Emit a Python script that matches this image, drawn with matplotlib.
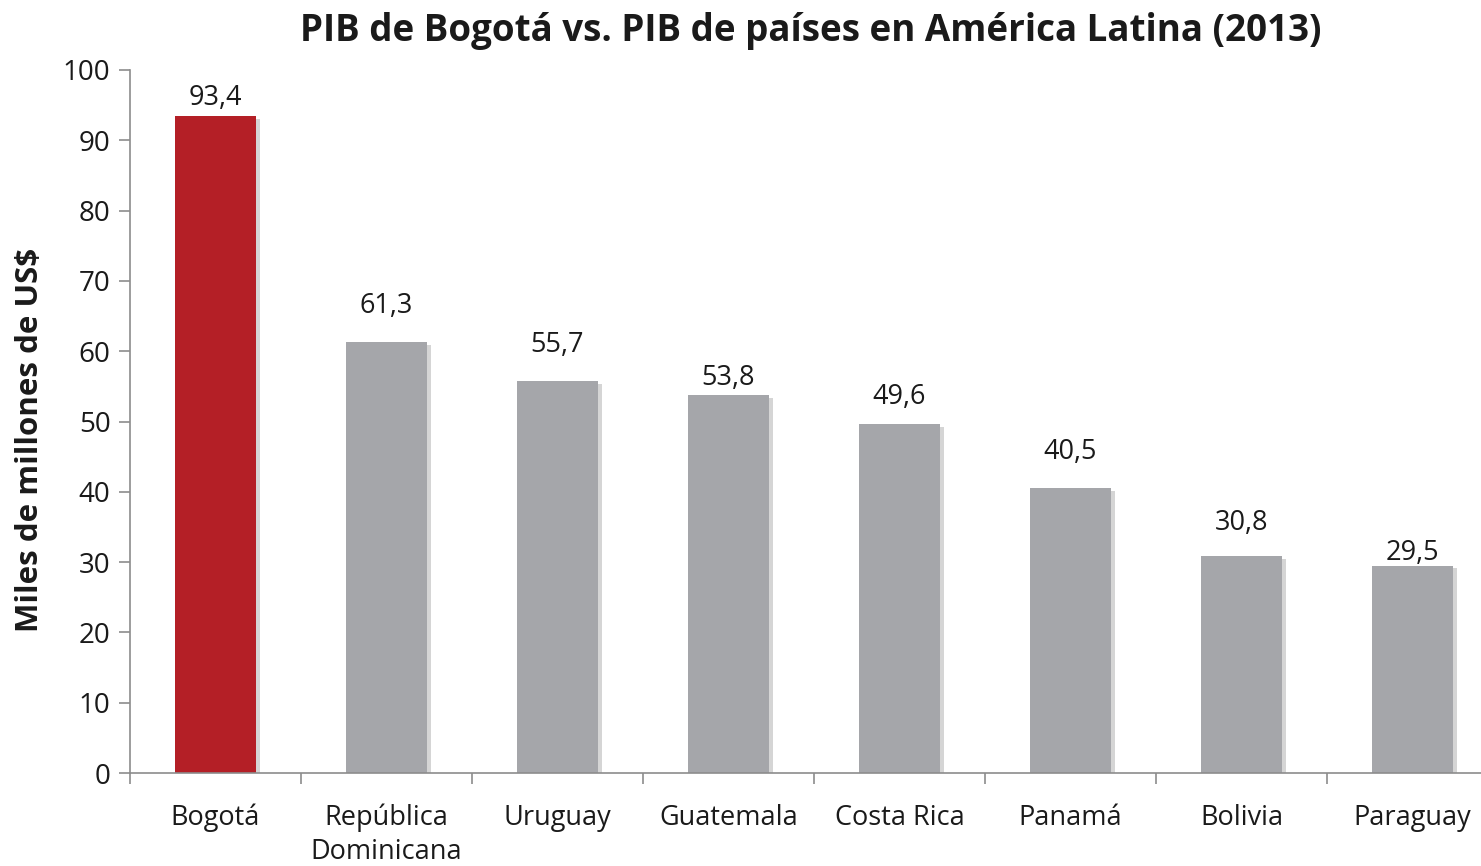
import matplotlib.pyplot as plt
import matplotlib.patheffects as pe
import numpy as np

# ────────────────────────────────
# Data
# ────────────────────────────────
categories = ["Bogotá", "República\nDominicana", "Uruguay", "Guatemala",
              "Costa Rica", "Panamá", "Bolivia", "Paraguay"]
values = [93.4, 61.3, 55.7, 53.8, 49.6, 40.5, 30.8, 29.5]
value_labels = ["93,4", "61,3", "55,7", "53,8", "49,6", "40,5", "30,8", "29,5"]

# label gap above each bar (points), as placed in the original
label_pad = [13, 26, 26, 12, 20, 26, 24, 9]

RED = "#B41F26"
GRAY = "#A5A6AA"
AXIS = "#8C8C8C"
TEXT = "#1A1A1A"

plt.rcParams["font.family"] = ["Open Sans", "DejaVu Sans"]

fig = plt.figure(figsize=(14.81, 8.66), dpi=100)
ax = fig.add_axes([130 / 1481, 93 / 866, 1351 / 1481, 703 / 866])

x = np.arange(len(categories))
colors = [RED] + [GRAY] * (len(categories) - 1)
bars = ax.bar(x, values, width=0.47, color=colors, zorder=2)
for b in bars:
    b.set_path_effects([pe.SimplePatchShadow(offset=(3, -2), alpha=0.3, shadow_rgbFace="#777777"),
                        pe.Normal()])

for xi, v, lab, pad in zip(x, values, value_labels, label_pad):
    ax.annotate(lab, (xi, v), xytext=(0, pad), textcoords="offset points",
                ha="center", va="center", fontsize=19.5, color=TEXT, zorder=3)

ax.set_xlim(-0.5, 7.4)
ax.set_ylim(0, 100)
ax.set_yticks(range(0, 101, 10))
ax.tick_params(axis="y", labelsize=20, colors=AXIS, labelcolor=TEXT, length=8, width=1.2, pad=6)

ax.set_xticks(x)
ax.set_xticklabels(categories, fontsize=19.5, color=TEXT, linespacing=1.3)
ax.set_xticks(np.arange(-0.5, 7.5, 1), minor=True)
ax.tick_params(axis="x", which="major", length=0, pad=22)
ax.tick_params(axis="x", which="minor", length=8, width=1.2, colors=AXIS)

for s in ["top", "right"]:
    ax.spines[s].set_visible(False)
for s in ["left", "bottom"]:
    ax.spines[s].set_color(AXIS)
    ax.spines[s].set_linewidth(1.2)

ax.set_ylabel("Miles de millones de US$", fontsize=22.5, fontweight="bold", color=TEXT)
ax.yaxis.set_label_coords(-0.063, 0.474)
fig.text(811 / 1481, 1 - 31 / 866, "PIB de Bogotá vs. PIB de países en América Latina (2013)",
         ha="center", va="center", fontsize=26.5, fontweight="bold", color=TEXT)

fig.savefig("out.png", dpi=100)
